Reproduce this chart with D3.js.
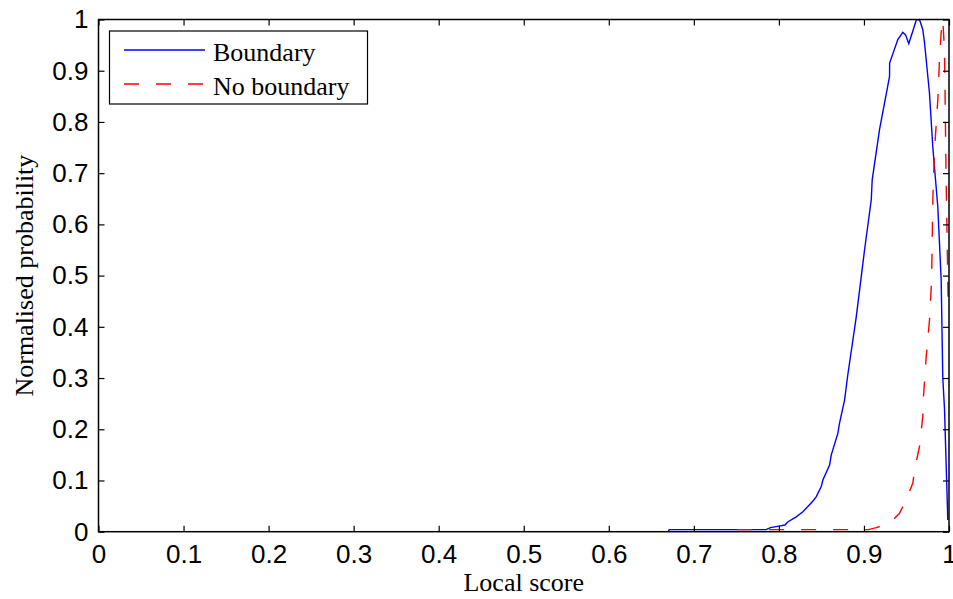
<!DOCTYPE html>
<html>
<head>
<meta charset="utf-8">
<script src="https://cdn.jsdelivr.net/npm/d3@7"></script>
<style>
  body { margin: 0; background: #fff; }
  svg { display: block; }
</style>
</head>
<body>
<div id="wrapper"></div>
<script>
// values
var xTicks = [0, 0.1, 0.2, 0.3, 0.4, 0.5, 0.6, 0.7, 0.8, 0.9, 1];
var xTickLabels = ["0", "0.1", "0.2", "0.3", "0.4", "0.5", "0.6", "0.7", "0.8", "0.9", "1"];
var yTicks = [0, 0.1, 0.2, 0.3, 0.4, 0.5, 0.6, 0.7, 0.8, 0.9, 1];
var yTickLabels = ["0", "0.1", "0.2", "0.3", "0.4", "0.5", "0.6", "0.7", "0.8", "0.9", "1"];

var seriesNames = ["Boundary", "No boundary"];

var boundaryX = [0, 0.670, 0.671, 0.785, 0.790, 0.800, 0.807, 0.8108, 0.8204, 0.8282, 0.8396, 0.8438,
  0.8498, 0.8517, 0.8596, 0.8616, 0.8693, 0.8713, 0.8772, 0.881, 0.891, 0.9007, 0.9086, 0.9097,
  0.9183, 0.9301, 0.9302, 0.9398, 0.9457, 0.9489, 0.9527, 0.9574, 0.9615, 0.9653, 0.9692, 0.9712,
  0.977, 0.981, 0.9868, 0.9908, 0.9927, 0.9947, 0.9986];
var boundaryY = [0, 0, 0.004, 0.004, 0.008, 0.011, 0.013, 0.0195, 0.029, 0.039, 0.059, 0.068,
  0.088, 0.101, 0.130, 0.150, 0.192, 0.212, 0.257, 0.306, 0.420, 0.550, 0.648, 0.687,
  0.785, 0.889, 0.915, 0.961, 0.975, 0.970, 0.953, 0.977, 0.999, 1.0, 0.980, 0.955,
  0.857, 0.750, 0.635, 0.492, 0.300, 0.240, 0.023];

var noBoundaryX = [0, 0.738, 0.739, 0.905, 0.9145, 0.930, 0.9418, 0.9497, 0.9575, 0.9594, 0.9653,
  0.9692, 0.970, 0.9732, 0.9771, 0.9795, 0.981, 0.983, 0.9869, 0.9888, 0.9908, 0.9927, 0.9947,
  0.9967, 0.999];
var noBoundaryY = [0, 0, 0.004, 0.004, 0.008, 0.016, 0.036, 0.062, 0.095, 0.120, 0.166,
  0.225, 0.264, 0.342, 0.413, 0.490, 0.650, 0.746, 0.844, 0.922, 0.975, 1.0, 0.940,
  0.680, 0.450];

var W = 953, H = 599;
var plotL = 98.5, plotR = 949, plotT = 19.5, plotB = 531.7;

var svg = d3.select('#wrapper')
  .append('svg')
  .attr('width', W)
  .attr('height', H);

var x = d3.scaleLinear().domain([0, 1]).range([plotL, plotR]);
var y = d3.scaleLinear().domain([0, 1]).range([plotB, plotT]);

svg.append('defs').append('clipPath').attr('id', 'plotclip')
  .append('rect')
  .attr('x', plotL).attr('y', plotT - 2)
  .attr('width', plotR - plotL).attr('height', plotB - plotT + 2);

function pts(xs, ys) {
  return xs.map(function (v, i) { return [v, ys[i]]; });
}

var line = d3.line()
  .x(function (d) { return x(d[0]); })
  .y(function (d) { return y(d[1]); });

var curves = svg.append('g').attr('clip-path', 'url(#plotclip)');

curves.append('path')
  .datum(pts(boundaryX, boundaryY))
  .attr('d', line)
  .style('fill', 'none')
  .style('stroke', '#0000ff')
  .style('stroke-width', 1.4);

curves.append('path')
  .datum(pts(noBoundaryX, noBoundaryY))
  .attr('d', line)
  .style('fill', 'none')
  .style('stroke', '#ff0000')
  .style('stroke-width', 1.4)
  .style('stroke-dasharray', '15,17');

// axes, ticks pointing inwards on all four sides
var tickFont = "'Liberation Sans', Arial, sans-serif";

function styleAxis(g) {
  g.select('.domain').remove();
  g.selectAll('.tick line').style('stroke', '#000').style('stroke-width', 1.2);
  g.selectAll('.tick text').style('font-family', tickFont).style('font-size', '26px').style('fill', '#000');
}

svg.append('g')
  .attr('transform', 'translate(0,' + plotB + ')')
  .call(d3.axisBottom(x).tickValues(xTicks).tickSizeInner(-6).tickSizeOuter(0).tickPadding(13)
    .tickFormat(function (d, i) { return xTickLabels[i]; }))
  .call(styleAxis);

svg.append('g')
  .attr('transform', 'translate(0,' + plotT + ')')
  .call(d3.axisTop(x).tickValues(xTicks).tickSizeInner(-6).tickSizeOuter(0).tickFormat(''))
  .call(styleAxis);

svg.append('g')
  .attr('transform', 'translate(' + plotL + ',0)')
  .call(d3.axisLeft(y).tickValues(yTicks).tickSizeInner(-6).tickSizeOuter(0).tickPadding(10)
    .tickFormat(function (d, i) { return yTickLabels[i]; }))
  .call(styleAxis);

svg.append('g')
  .attr('transform', 'translate(' + plotR + ',0)')
  .call(d3.axisRight(y).tickValues(yTicks).tickSizeInner(-6).tickSizeOuter(0).tickFormat(''))
  .call(styleAxis);

svg.append('rect')
  .attr('x', plotL).attr('y', plotT)
  .attr('width', plotR - plotL).attr('height', plotB - plotT)
  .style('fill', 'none')
  .style('stroke', '#000')
  .style('stroke-width', 1.5);

var serif = "'Liberation Serif', 'Times New Roman', serif";

svg.append('text')
  .attr('x', (plotL + plotR) / 2)
  .attr('y', 591)
  .attr('text-anchor', 'middle')
  .style('font-family', serif)
  .style('font-size', '26px')
  .text('Local score');

svg.append('text')
  .attr('transform', 'translate(33,' + ((plotT + plotB) / 2) + ') rotate(-90)')
  .attr('text-anchor', 'middle')
  .style('font-family', serif)
  .style('font-size', '26px')
  .text('Normalised probability');

// legend
var legend = svg.append('g');
legend.append('rect')
  .attr('x', 109.5).attr('y', 31)
  .attr('width', 258).attr('height', 73)
  .style('fill', '#fff')
  .style('stroke', '#000')
  .style('stroke-width', 1.2);

var legendItems = [
  { name: seriesNames[0], color: '#0000ff', dash: null },
  { name: seriesNames[1], color: '#ff0000', dash: '15,17' }
];

legend.selectAll('g.item')
  .data(legendItems)
  .enter()
  .append('g')
  .attr('class', 'item')
  .attr('transform', function (d, i) { return 'translate(0,' + (50 + i * 34) + ')'; })
  .each(function (d) {
    var g = d3.select(this);
    g.append('line')
      .attr('x1', 124).attr('x2', 205).attr('y1', 0).attr('y2', 0)
      .style('stroke', d.color)
      .style('stroke-width', 1.4)
      .style('stroke-dasharray', d.dash);
    g.append('text')
      .attr('x', 213).attr('y', 11)
      .style('font-family', serif)
      .style('font-size', '26px')
      .text(d.name);
  });
</script>
</body>
</html>
